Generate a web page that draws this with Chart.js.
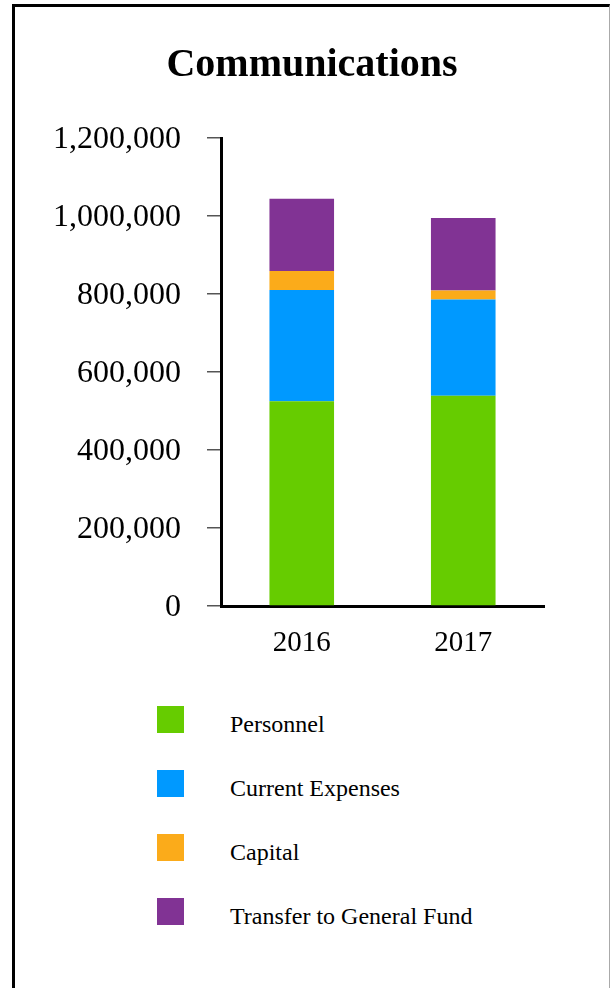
<!DOCTYPE html>
<html>
<head>
<meta charset="utf-8">
<title>Communications</title>
<script src="https://cdn.jsdelivr.net/npm/chart.js@4.4.0/dist/chart.umd.min.js"></script>
<style>
  body { margin: 0; background: #fff; font-family: "Liberation Serif", "Times New Roman", serif; }
  #frame {
    position: absolute; left: 12px; top: 4px; width: 594px; height: 1100px;
    border-top: 3px solid #000; border-left: 3px solid #000; border-right: 1px solid #aaa;
  }
  #wrap { position: absolute; left: 16px; top: 8px; width: 592px; height: 680px; }
  #legend { position: absolute; left: 157px; top: 706px; }
  .item { display: flex; align-items: center; height: 27px; margin-bottom: 37px; }
  .box { width: 27px; height: 27px; margin-right: 46px; }
  .item span { font-size: 24px; color: #000; padding-top: 10px; }
</style>
</head>
<body>
<div id="frame"></div>
<div id="wrap"><canvas id="chart"></canvas></div>
<div id="legend"></div>

<script>
// Data
const years = ["2016", "2017"];
const personnel = [525000, 539000];
const currentExpenses = [285000, 247000];
const capital = [49000, 23000];
const transferToGeneral = [185000, 186000];
const yTicks = [0, 200000, 400000, 600000, 800000, 1000000, 1200000];

const serif = "'Liberation Serif', 'Times New Roman', serif";

// Legend as html, built from the datasets
const htmlLegend = {
  id: "htmlLegend",
  afterUpdate(chart) {
    const box = document.getElementById("legend");
    box.innerHTML = "";
    chart.data.datasets.forEach((ds) => {
      const item = document.createElement("div");
      item.className = "item";
      const sw = document.createElement("div");
      sw.className = "box";
      sw.style.background = ds.backgroundColor;
      const label = document.createElement("span");
      label.textContent = ds.label;
      item.appendChild(sw);
      item.appendChild(label);
      box.appendChild(item);
    });
  },
};

const ctx = document.getElementById("chart").getContext("2d");
new Chart(ctx, {
  type: "bar",
  data: {
    labels: years,
    datasets: [
      { label: "Personnel", data: personnel, backgroundColor: "#66cc00" },
      { label: "Current Expenses", data: currentExpenses, backgroundColor: "#0099ff" },
      { label: "Capital", data: capital, backgroundColor: "#fbab1a" },
      { label: "Transfer to General Fund", data: transferToGeneral, backgroundColor: "#813394" },
    ],
  },
  options: {
    responsive: true,
    maintainAspectRatio: false,
    animation: false,
    barPercentage: 0.4,
    categoryPercentage: 1,
    layout: { padding: 0 },
    plugins: {
      legend: { display: false },
      tooltip: { enabled: false },
      title: {
        display: true,
        text: "Communications",
        color: "#000",
        font: { family: serif, size: 40, weight: "bold" },
        padding: { top: 34, bottom: 48 },
      },
    },
    scales: {
      x: {
        stacked: true,
        grid: { display: false, drawTicks: false },
        border: { display: true, color: "#000", width: 3 },
        ticks: { color: "#000", font: { family: serif, size: 29 }, padding: 20 },
        afterFit: (axis) => { axis.height = 82; },
      },
      y: {
        stacked: true,
        min: 0,
        max: 1200000,
        afterBuildTicks: (axis) => { axis.ticks = yTicks.map((v) => ({ value: v })); },
        grid: { drawOnChartArea: false, drawTicks: true, tickLength: 14, color: "#555", lineWidth: 1.5 },
        border: { display: true, color: "#000", width: 3 },
        ticks: {
          color: "#000",
          font: { family: serif, size: 32 },
          padding: 26,
          labelOffset: 2,
          callback: (v) => Number(v).toLocaleString("en-US"),
        },
        afterFit: (axis) => { axis.width = 205; },
      },
      // empty right-hand box: keeps the plot narrow while the title stays centred
      spacer: {
        type: "linear",
        axis: "y",
        position: "right",
        grid: { display: false, drawTicks: false },
        border: { display: false },
        ticks: { display: false },
        afterFit: (axis) => { axis.width = 64; },
      },
    },
  },
  plugins: [htmlLegend],
});
</script>
</body>
</html>
